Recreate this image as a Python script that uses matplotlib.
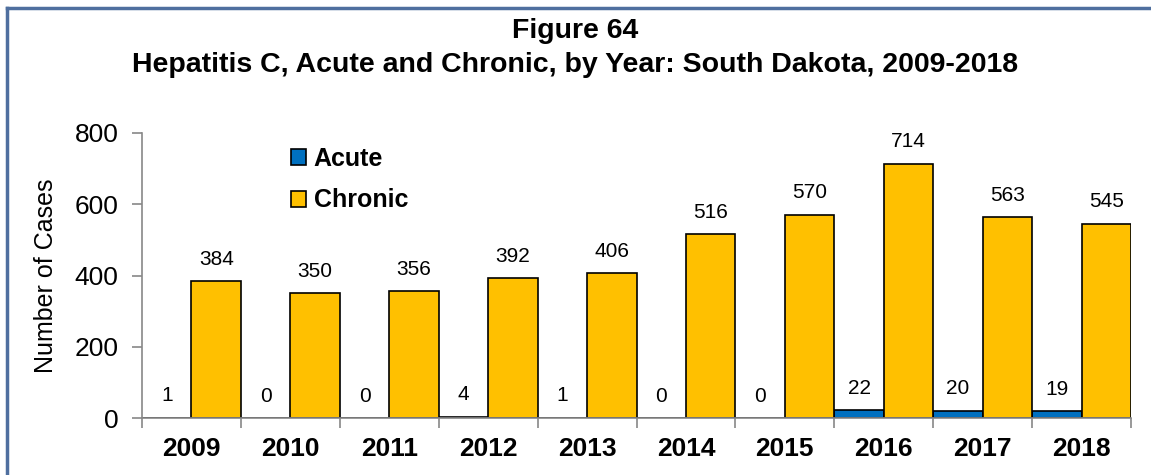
import matplotlib
matplotlib.use("Agg")
import matplotlib.pyplot as plt
import numpy as np

plt.rcParams['font.family'] = ['Liberation Sans', 'DejaVu Sans']

years = ["2009", "2010", "2011", "2012", "2013", "2014", "2015", "2016", "2017", "2018"]
acute = [1, 0, 0, 4, 1, 0, 0, 22, 20, 19]
chronic = [384, 350, 356, 392, 406, 516, 570, 714, 563, 545]

fig = plt.figure(figsize=(11.51, 4.75), dpi=100)
ax = fig.add_axes([0.1234, 0.12, 0.8592, 0.60])

x = np.arange(len(years))
w = 0.5
b1 = ax.bar(x - w / 2, acute, w, color="#0070C0", edgecolor="black", linewidth=1.2, label="Acute")
b2 = ax.bar(x + w / 2, chronic, w, color="#FFC000", edgecolor="black", linewidth=1.2, label="Chronic")
ax.bar_label(b1, padding=9, fontsize=15)
ax.bar_label(b2, padding=9, fontsize=15)

ax.set_xlim(-0.5, len(years) - 0.5)
ax.set_ylim(0, 800)
ax.set_yticks([0, 200, 400, 600, 800])
ax.tick_params(axis="y", labelsize=19, length=7, color="#888888", width=1.2, pad=10)
ax.set_xticks(x)
ax.set_xticklabels(years, fontsize=19, fontweight="bold")
ax.tick_params(axis="x", length=0, pad=14)
ax.set_xticks(np.arange(-0.5, len(years)), minor=True)
ax.tick_params(axis="x", which="minor", length=7, color="#888888", width=1.2)
for s in ["top", "right"]:
    ax.spines[s].set_visible(False)
for s in ["left", "bottom"]:
    ax.spines[s].set_color("#888888")
    ax.spines[s].set_linewidth(1.2)
ax.set_ylabel("Number of Cases", fontsize=18, labelpad=12)

ax.legend(loc="upper left", bbox_to_anchor=(0.128, 1.03), frameon=False,
          prop={"size": 18, "weight": "bold"}, handlelength=0.6, handleheight=0.6,
          handletextpad=0.3, labelspacing=0.7)

fig.text(0.5, 0.935, "Figure 64", ha="center", va="center", fontsize=20.5, fontweight="bold")
fig.text(0.5, 0.863, "Hepatitis C, Acute and Chronic, by Year: South Dakota, 2009-2018",
         ha="center", va="center", fontsize=20.5, fontweight="bold")

# border
fig.add_artist(plt.Line2D([0.0065, 1.0], [0.983, 0.983], color="#4F6F9F", linewidth=2.5, transform=fig.transFigure))
fig.add_artist(plt.Line2D([0.0065, 0.0065], [0.0, 0.983], color="#4F6F9F", linewidth=2.5, transform=fig.transFigure))

fig.savefig("out.png", dpi=100)
